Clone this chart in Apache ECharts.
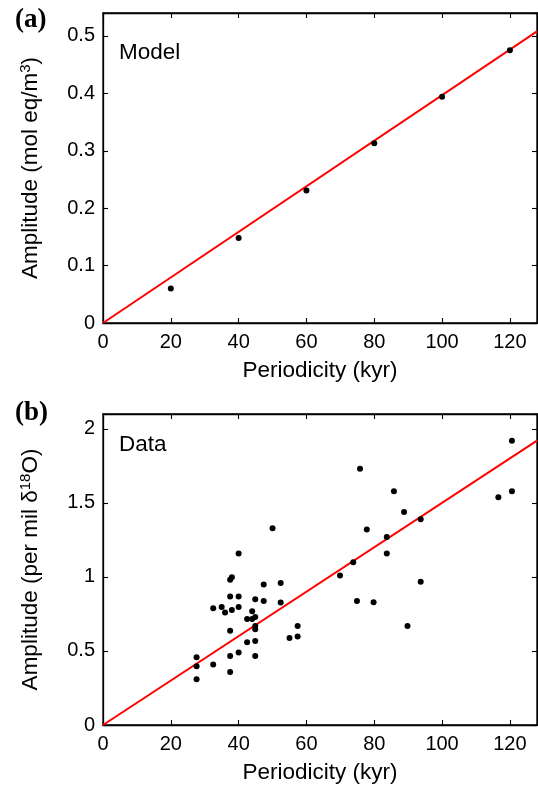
<!DOCTYPE html>
<html>
<head>
<meta charset="utf-8">
<script src="https://cdn.jsdelivr.net/npm/echarts@6/dist/echarts.min.js"></script>
<style>
html,body{margin:0;padding:0;background:#fff;}
#a{position:absolute;left:0;top:0;width:538px;height:393px;}
#b{position:absolute;left:0;top:393px;width:538px;height:394px;}
</style>
</head>
<body>
<div id="a"></div>
<div id="b"></div>
<script>
// Panel (a): Model
const modelPeriod = [20, 40, 60, 80, 100, 120];
const modelAmp = [0.060, 0.148, 0.231, 0.313, 0.394, 0.475];
const modelFitX = [0, 128];
const modelFitY = [0, 0.508];

// Panel (b): Data
const dataPeriod = [
  50.0, 40.0, 38.0, 37.5, 47.4, 52.4, 37.5, 40.0, 44.9, 47.4, 52.4, 32.5, 35.0, 36.0, 38.0, 40.0, 44.0, 42.5,
  44.0, 44.9, 44.9, 44.9, 37.5, 57.4, 55.0, 57.4, 42.5, 44.9, 27.6, 27.6, 27.6, 32.5, 37.5, 40.0, 44.9, 37.5,
  120.6, 116.6, 120.6, 75.8, 85.8, 88.8, 93.7, 77.8, 83.7, 83.7, 73.8, 69.9, 93.7, 74.9, 79.8, 89.8
];
const dataAmp = [
  1.329, 1.158, 0.998, 0.980, 0.948, 0.959, 0.867, 0.867, 0.849, 0.838, 0.827, 0.788, 0.797, 0.759, 0.777, 0.797, 0.768, 0.716,
  0.716, 0.730, 0.669, 0.646, 0.637, 0.669, 0.588, 0.597, 0.559, 0.568, 0.457, 0.396, 0.309, 0.408, 0.466, 0.489, 0.466, 0.358,
  1.919, 1.538, 1.579, 1.730, 1.579, 1.439, 1.390, 1.320, 1.270, 1.158, 1.099, 1.009, 0.968, 0.838, 0.829, 0.669
];
const dataFitX = [0, 128];
const dataFitY = [0, 1.92];

const xTicks = [0, 20, 40, 60, 80, 100, 120];
const yTicksA = [0, 0.1, 0.2, 0.3, 0.4, 0.5];
const yTicksB = [0, 0.5, 1, 1.5, 2];

const FONT = 'Liberation Sans, Arial, Helvetica, sans-serif';
const zip = (xs, ys) => xs.map((x, i) => [x, ys[i]]);

function makePanel(el, p) {
  const lineStyle = () => ({color: '#000', width: 1.3});
  const tick = () => ({show: true, inside: true, length: 5, lineStyle: {color: '#000', width: 1.1}});
  const chart = echarts.init(el);
  chart.setOption({
    animation: false,
    grid: [{left: 103, right: 1, top: p.top, height: p.height, outerBoundsMode: 'none', containLabel: false,
      show: true, borderColor: '#000', borderWidth: 1.3}],
    xAxis: [
      {type: 'value', min: 0, max: 128, interval: 20, position: 'bottom',
        splitLine: {show: false},
        axisLine: {show: true, onZero: false, lineStyle: lineStyle()},
        axisTick: tick(),
        name: 'Periodicity (kyr)', nameLocation: 'middle', nameGap: 36,
        nameTextStyle: {fontFamily: FONT, fontSize: 22.5, color: '#000'},
        axisLabel: {fontFamily: FONT, fontSize: 20, color: '#000', margin: 9, showMaxLabel: false,
          formatter: v => xTicks.includes(v) ? String(v) : ''}},
      {type: 'value', min: 0, max: 128, interval: 20, position: 'top',
        splitLine: {show: false},
        axisLine: {show: true, onZero: false, lineStyle: lineStyle()},
        axisTick: tick(),
        axisLabel: {show: true, inside: true, margin: 0, fontSize: 1, formatter: () => ''}}
    ],
    yAxis: [
      {type: 'value', min: 0, max: p.ymax, interval: p.yint, position: 'left',
        splitLine: {show: false},
        axisLine: {show: true, onZero: false, lineStyle: lineStyle()},
        axisTick: tick(),
        name: p.yname, nameLocation: 'middle', nameGap: 59,
        nameTextStyle: {fontFamily: FONT, fontSize: 22.5, color: '#000',
          rich: {sup: {fontFamily: FONT, fontSize: 15, color: '#000', verticalAlign: 'top', padding: [0, 0, 11, 0]}}},
        axisLabel: {fontFamily: FONT, fontSize: 20, color: '#000', margin: 8, showMaxLabel: false,
          formatter: v => p.yticks.some(t => Math.abs(t - v) < 1e-9) ? String(+v.toFixed(2)) : ''}},
      {type: 'value', min: 0, max: p.ymax, interval: p.yint, position: 'right',
        splitLine: {show: false},
        axisLine: {show: true, onZero: false, lineStyle: lineStyle()},
        axisTick: tick(),
        axisLabel: {show: true, inside: true, margin: 0, fontSize: 1, formatter: () => ''}}
    ],
    graphic: [
      {type: 'text', left: 15, top: p.labelTop, style: {text: p.label, font: 'bold 27px "Liberation Serif", "Times New Roman", serif', fill: '#000'}},
      {type: 'text', left: 119, top: p.textTop, style: {text: p.text, font: '22.5px ' + FONT, fill: '#000'}}
    ],
    series: [
      {type: 'line', xAxisIndex: 0, yAxisIndex: 0, data: zip(p.fitX, p.fitY), showSymbol: false,
        lineStyle: {color: '#ff0000', width: 2}, z: 2},
      {type: 'scatter', xAxisIndex: 0, yAxisIndex: 0, data: zip(p.xs, p.ys), symbolSize: 6,
        itemStyle: {color: '#000', opacity: 1}, z: 3}
    ]
  });
}

makePanel(document.getElementById('a'), {
  top: 13, height: 310, ymax: 0.54, yint: 0.1, yticks: yTicksA,
  yname: 'Amplitude (mol eq/m{sup|3})', label: '(a)', labelTop: 7, text: 'Model', textTop: 41,
  xs: modelPeriod, ys: modelAmp, fitX: modelFitX, fitY: modelFitY
});
makePanel(document.getElementById('b'), {
  top: 21, height: 311, ymax: 2.1, yint: 0.5, yticks: yTicksB,
  yname: 'Amplitude (per mil δ{sup|18}O)', label: '(b)', labelTop: 7, text: 'Data', textTop: 40,
  xs: dataPeriod, ys: dataAmp, fitX: dataFitX, fitY: dataFitY
});
</script>
</body>
</html>
